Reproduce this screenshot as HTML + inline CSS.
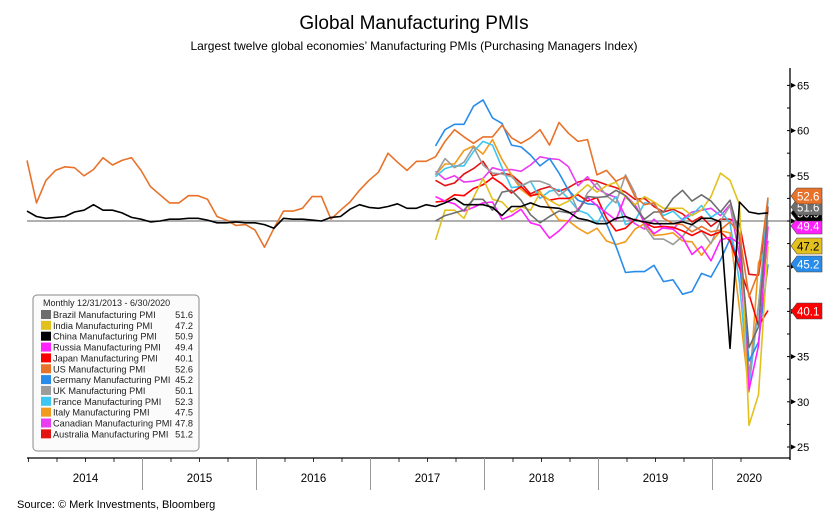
<!DOCTYPE html>
<html><head><meta charset="utf-8"><style>
body{margin:0;background:#fff;width:832px;height:512px;overflow:hidden;font-family:"Liberation Sans",sans-serif}
svg{position:absolute;left:0;top:0}
</style></head><body>
<svg id="c" width="832" height="512">
<text x="414" y="29" text-anchor="middle" font-size="19" fill="#000">Global Manufacturing PMIs</text>
<text x="414" y="50" text-anchor="middle" font-size="12" fill="#000">Largest twelve global economies’ Manufacturing PMIs (Purchasing Managers Index)</text>
<text x="17" y="508" font-size="11" fill="#000">Source: © Merk Investments, Bloomberg</text>
</svg>
<script>
const years=['2014','2015','2016','2017','2018','2019','2020'];
const yTicks=[25,30,35,40,45,50,55,60,65];
const usVals=[56.7,52.0,54.5,55.6,56.0,55.9,55.0,55.7,57.0,56.2,56.7,57.0,55.6,53.8,52.9,52.0,52.0,52.8,52.8,52.4,50.5,50.1,49.5,49.6,49.0,47.1,49.2,51.1,51.1,51.4,52.7,52.7,50.2,51.2,52.1,53.4,54.5,55.4,57.5,56.5,55.6,56.6,56.6,57.1,58.8,60.1,59.3,58.6,59.3,59.3,60.6,59.2,58.6,59.2,60.1,58.4,60.9,59.7,58.8,59.0,55.1,55.6,54.4,54.9,52.7,51.8,52.0,50.3,49.7,49.6,48.8,49.4,48.8,49.0,49.9,48.6,41.6,44.4,52.6];
const chinaVals=[51.1,50.5,50.3,50.4,50.5,51.0,51.2,51.8,51.2,51.2,50.9,50.4,50.2,49.9,50.0,50.2,50.2,50.3,50.3,50.1,49.8,49.8,49.9,49.8,49.8,49.6,49.2,50.3,50.2,50.2,50.1,50.0,50.4,50.5,51.3,51.8,51.5,51.4,51.6,51.9,51.4,51.4,51.8,51.6,52.0,52.5,51.8,51.8,51.8,51.5,50.6,51.6,51.6,52.0,51.6,51.5,51.4,51.0,50.3,50.1,49.7,49.7,50.3,50.5,50.1,49.9,49.7,49.7,49.7,49.9,49.6,50.3,50.3,49.9,35.9,52.1,51.0,50.8,50.9];
const brazilVals=[50.0,50.6,50.9,51.2,52.4,52.4,51.2,53.2,53.4,52.3,50.7,49.8,50.5,51.1,50.9,51.1,52.7,52.6,52.7,53.4,52.8,51.5,50.2,51.0,51.0,52.5,53.4,52.2,52.9,52.2,51.0,52.3,48.4,36.0,38.3,51.6];
const indiaVals=[47.9,51.2,51.2,50.3,52.6,54.7,52.4,52.1,51.0,51.6,51.2,53.1,52.3,51.7,52.2,53.1,54.0,53.2,53.9,54.3,52.6,51.8,52.7,52.1,51.4,51.4,51.4,50.6,51.2,52.7,55.3,54.5,51.8,27.4,30.8,47.2];
const russiaVals=[52.7,52.2,51.9,51.1,51.5,52.0,52.1,50.2,50.6,51.3,49.8,49.5,48.1,48.9,50.0,51.3,52.6,51.7,50.9,50.1,52.8,51.8,49.8,48.6,49.3,49.1,48.2,46.3,47.2,45.6,47.9,48.2,47.5,31.3,36.2,49.4];
const japanVals=[52.1,52.2,52.9,52.8,53.6,54.0,54.8,54.1,53.1,53.8,52.8,53.0,52.3,52.5,52.5,52.9,52.2,52.6,50.3,48.9,49.2,50.2,49.8,49.3,49.4,49.3,48.9,48.4,48.9,48.4,48.8,47.8,44.8,41.9,38.4,40.1];
const germanyVals=[58.3,60.1,60.7,60.7,62.7,63.4,61.4,60.8,58.4,58.2,57.3,56.1,56.9,55.3,53.4,52.3,51.9,51.8,49.7,47.2,44.3,44.4,44.4,45.1,43.3,43.5,41.9,42.2,44.2,43.8,45.7,48.0,45.4,34.5,36.6,45.2];
const ukVals=[55.1,56.9,55.9,56.5,58.2,56.2,55.3,55.2,54.9,53.9,54.4,54.4,54.0,52.8,53.6,51.1,53.1,54.2,52.8,52.0,55.1,53.1,49.4,48.0,48.0,47.4,48.3,49.6,48.9,47.5,50.0,51.7,47.8,32.6,40.7,50.1];
const franceVals=[54.9,55.8,56.1,56.1,57.7,58.8,58.4,55.9,53.7,53.8,54.4,52.5,53.3,53.5,52.5,51.2,50.8,49.7,51.5,52.7,49.6,50.0,52.0,51.9,50.6,51.1,50.1,50.7,51.7,50.4,51.1,49.8,43.2,31.5,40.6,52.3];
const italyVals=[55.1,56.3,56.3,57.8,58.3,57.4,59.0,56.8,55.1,53.5,52.7,53.3,51.5,50.1,50.0,49.2,48.6,49.2,47.8,47.4,47.7,49.1,49.7,48.4,48.5,48.7,47.8,47.7,46.2,47.6,48.9,48.7,40.3,31.1,45.4,47.5];
const canadaVals=[55.5,54.6,55.0,54.3,54.4,54.7,55.9,55.6,55.7,55.5,56.2,57.1,56.9,56.8,56.0,53.9,54.9,53.6,53.0,52.6,50.5,49.7,49.1,50.2,49.2,49.1,50.2,51.0,51.2,51.4,50.6,51.8,46.1,33.0,40.6,47.8];
const australiaVals=[54.5,53.9,54.2,55.2,55.8,56.6,55.0,55.3,55.1,54.2,53.0,53.5,53.8,53.3,53.7,54.3,54.6,54.4,54.0,53.7,53.2,52.4,52.5,51.6,51.0,51.3,50.8,49.9,50.5,49.4,50.2,50.2,49.7,44.1,44.0,51.2];
const legendNames=['Brazil Manufacturing PMI','India Manufacturing PMI','China Manufacturing PMI','Russia Manufacturing PMI','Japan Manufacturing PMI','US Manufacturing PMI','Germany Manufacturing PMI','UK Manufacturing PMI','France Manufacturing PMI','Italy Manufacturing PMI','Canadian Manufacturing PMI','Australia Manufacturing PMI'];
const legendVals=['51.6','47.2','50.9','49.4','40.1','52.6','45.2','50.1','52.3','47.5','47.8','51.2'];

const NS='http://www.w3.org/2000/svg';
const svg=document.getElementById('c');
function el(t,a,p){const e=document.createElementNS(NS,t);for(const k in a)e.setAttribute(k,a[k]);(p||svg).appendChild(e);return e;}
const X=i=>27+i*9.5;
const Y=v=>221-(v-50)*9.04;
const colors=['#6e6e6e','#e2c11f','#000000','#ff22ff','#ff0000','#e8722a','#2a8cea','#9c9c9c','#3cc6f2','#f29a1c','#e83cf0','#e41414'];
const series=[brazilVals,indiaVals,chinaVals,russiaVals,japanVals,usVals,germanyVals,ukVals,franceVals,italyVals,canadaVals,australiaVals];
const slugs=['brazil','india','china','russia','japan','us','germany','uk','france','italy','canada','australia'];

let e=el('line',{x1:X(0),x2:790,y1:Y(50),y2:Y(50),stroke:'#808080','stroke-width':1.3});


e=el('line',{x1:790,x2:790,y1:68,y2:460,stroke:'#000','stroke-width':1.3});


for(let v=25;v<=65;v+=2.5){el('line',{x1:787,x2:790,y1:Y(v),y2:Y(v),stroke:'#000'});}
yTicks.forEach(v=>{
 el('path',{d:`M791 ${Y(v)-2.5}L796 ${Y(v)}L791 ${Y(v)+2.5}Z`,fill:'#000'});
 const t=el('text',{x:797,y:Y(v)+4,'font-size':11,fill:'#000'});t.textContent=v;
 
 
});
e=el('line',{x1:27,x2:790,y1:458,y2:458,stroke:'#000','stroke-width':1.3});


for(let m=1;m<=78;m+=3){el('line',{x1:X(m)-8,x2:X(m)-8,y1:458,y2:462,stroke:'#000','stroke-width':0.8});}
years.forEach((y,k)=>{
 const x0=X(1+12*k)-8, x1=Math.min(X(13+12*k)-8,786);
 if(k>0) el('line',{x1:x0,x2:x0,y1:458,y2:490,stroke:'#999'});
 const t=el('text',{x:(Math.max(x0,27)+x1)/2,y:482,'font-size':11.5,'text-anchor':'middle',fill:'#000'});t.textContent=y;
 
 
});
const order=[11,10,9,8,7,6,4,3,1,0,5,2];
order.forEach(s=>{
 const vals=series[s];const off=79-vals.length;
 const d=vals.map((v,i)=>(i?'L':'M')+X(i+off).toFixed(1)+' '+Y(v).toFixed(1)).join('');
 const p=el('path',{d:d,fill:'none',stroke:colors[s],'stroke-width':1.6,'stroke-linejoin':'round'});
 
 
});
const tagIdx=[4,6,1,3,2,0,5];
const tagY={5:196,0:207,2:213,3:226,1:246,6:264,4:311};
tagIdx.forEach(s=>{
 const cy=tagY[s];
 const g=el('g',{});
 
 
 el('path',{d:`M791 ${cy}L797 ${cy-8}L822 ${cy-8}L822 ${cy+8}L797 ${cy+8}Z`,fill:colors[s],stroke:'#444','stroke-width':0.6},g);
 const t=el('text',{x:797,y:cy+4.5,'font-size':11.5,fill:(s===1?'#000':'#fff')},g);t.textContent=legendVals[s];
});
const lg=el('g',{});


el('rect',{x:33,y:295,width:166,height:156,rx:4,fill:'#fbfbfb',stroke:'#8a8a8a','stroke-width':1},lg);
let ht=el('text',{x:43,y:306,'font-size':9,fill:'#222','font-family':'Liberation Sans, sans-serif'},lg);ht.textContent='Monthly 12/31/2013 - 6/30/2020';
legendNames.forEach((n,k)=>{
 const yy=314+k*10.85;
 const g=el('g',{},lg);
 
 
 el('rect',{x:41,y:yy-4,width:10,height:9,fill:colors[k]},g);
 const t=el('text',{x:53,y:yy+4,'font-size':9.2,fill:'#222','font-family':'Liberation Sans, sans-serif'},g);t.textContent=n;
 const t2=el('text',{x:193,y:yy+4,'font-size':9.2,fill:'#222','text-anchor':'end','font-family':'Liberation Sans, sans-serif'},g);t2.textContent=legendVals[k];
});
</script>
</body></html>
